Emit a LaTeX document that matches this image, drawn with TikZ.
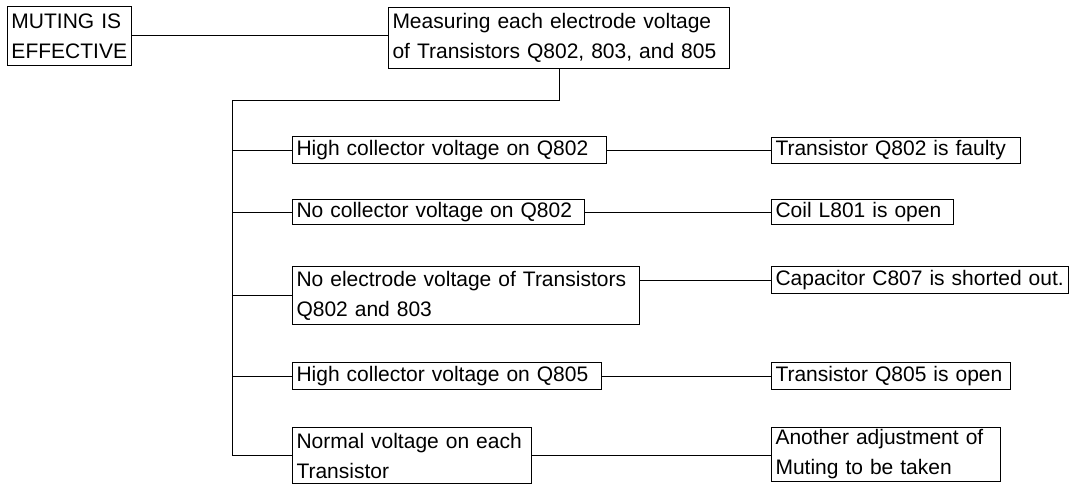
\documentclass[tikz,border=0pt]{standalone}
\usepackage{fontspec}
\newfontfamily\diagfont{Liberation Sans}
\begin{document}
\begin{tikzpicture}[x=1pt,y=-1pt,
  box/.style={draw, line width=1pt, inner xsep=4pt, inner ysep=0pt, anchor=north west,
    align=left, font=\diagfont\fontsize{21}{30}\selectfont},
  link/.style={line width=1pt}]
\useasboundingbox (0,0) rectangle (1073,484);
\node[box, text width=116pt, minimum height=59pt] (m) at (7,6) {MUTING IS\\EFFECTIVE};
\node[box, text width=333pt, minimum height=61pt] (s) at (388,7) {Measuring each electrode voltage\\of Transistors Q802, 803, and 805};
\node[box, text width=306pt, minimum height=27pt] (c1) at (292,136) {High collector voltage on Q802};
\node[box, text width=284pt, minimum height=25pt] (c2) at (292,199) {No collector voltage on Q802};
\node[box, text width=339pt, minimum height=58pt] (c3) at (292,266) {No electrode voltage of Transistors\\Q802 and 803};
\node[box, text width=301pt, minimum height=27pt] (c4) at (292,362) {High collector voltage on Q805};
\node[box, text width=231pt, minimum height=56pt] (c5) at (292,427) {Normal voltage on each\\Transistor};
\node[box, text width=241pt, minimum height=26pt] (r1) at (771,137) {Transistor Q802 is faulty};
\node[box, text width=174pt, minimum height=25pt] (r2) at (771,199) {Coil L801 is open};
\node[box, text width=289pt, minimum height=27pt] (r3) at (771,266) {Capacitor C807 is shorted out.};
\node[box, text width=231pt, minimum height=27pt] (r4) at (771,362) {Transistor Q805 is open};
\node[box, text width=221pt, minimum height=54pt] (r5) at (771,427) {Another adjustment of\\Muting to be taken};
\coordinate (tt) at (232,101);
\draw[link] (m.east) -- (m.east -| s.west);
\draw[link] (s.south) |- (tt) |- (c5.west);
\draw[link] (tt |- c1.west) -- (c1.west);
\draw[link] (tt |- c2.west) -- (c2.west);
\draw[link] (tt |- c3.west) -- (c3.west);
\draw[link] (tt |- c4.west) -- (c4.west);
\draw[link] (c1.east) -- (c1.east -| r1.west);
\draw[link] (c2.east) -- (c2.east -| r2.west);
\draw[link] (c3.east |- r3.west) -- (r3.west);
\draw[link] (c4.east) -- (c4.east -| r4.west);
\draw[link] (c5.east) -- (c5.east -| r5.west);
\end{tikzpicture}
\end{document}
